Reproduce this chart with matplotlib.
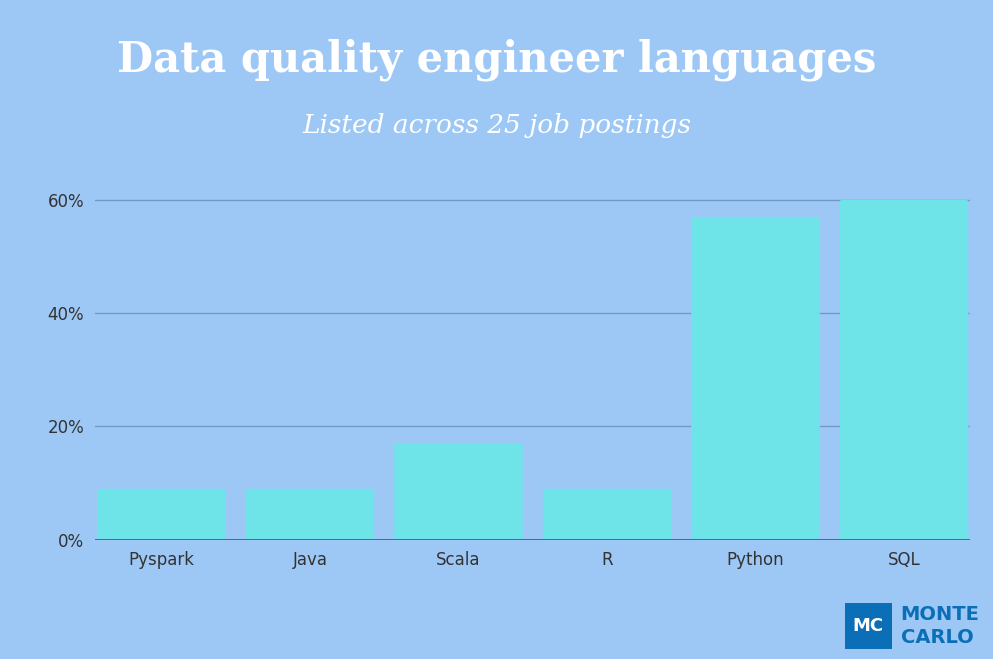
import matplotlib
matplotlib.use("Agg")
import matplotlib.pyplot as plt
from matplotlib.patches import FancyBboxPatch

categories = ["Pyspark", "Java", "Scala", "R", "Python", "SQL"]
values = [9, 9, 17, 9, 57, 60]
yticks = [0, 20, 40, 60]
ytick_labels = ["0%", "20%", "40%", "60%"]

bg = "#9DC8F6"
bar_c = "#6FE4E8"
fig = plt.figure(figsize=(9.93, 6.59), dpi=100, facecolor=bg)
ax = fig.add_axes([0.096, 0.181, 0.881, 0.52])
ax.set_facecolor(bg)
ax.set_xlim(-0.445, len(categories) - 0.555)
ax.set_ylim(0, 60.5)
for y in yticks:
    ax.axhline(y, color="#7497C4", lw=1, zorder=0)
ax.axhline(0, color="#555", lw=1.2, zorder=3)
bars = ax.bar(range(len(categories)), values, width=0.865, color=bar_c, zorder=2)
for b in bars:
    b.set_visible(False)
    p = FancyBboxPatch((b.get_x(), 0), b.get_width(), b.get_height(),
                       boxstyle="round,pad=0,rounding_size=0.04",
                       mutation_aspect=4, fc=bar_c, ec="none", zorder=2)
    ax.add_patch(p)
ax.set_xticks(range(len(categories)), categories)
ax.set_yticks(yticks, ytick_labels)
ax.tick_params(length=0, labelsize=12, colors="#333", pad=8)
for s in ax.spines.values():
    s.set_visible(False)

fig.text(0.5, 0.91, "Data quality engineer languages", ha="center", va="center",
         fontsize=30, fontweight="bold", color="white", family="DejaVu Serif")
fig.text(0.5, 0.81, "Listed across 25 job postings", ha="center", va="center",
         fontsize=19, style="italic", color="white", family="DejaVu Serif")

# logo
fig.patches.append(FancyBboxPatch((0.851, 0.015), 0.047, 0.07, boxstyle="square,pad=0",
                                  transform=fig.transFigure, fc="#0B6FB8", ec="none"))
fig.text(0.8745, 0.05, "MC", ha="center", va="center", fontsize=13,
         fontweight="bold", color="white")
fig.text(0.907, 0.068, "MONTE", ha="left", va="center", fontsize=14,
         fontweight="bold", color="#0B6FB8")
fig.text(0.907, 0.033, "CARLO", ha="left", va="center", fontsize=14,
         fontweight="bold", color="#0B6FB8")

fig.savefig("out.png", dpi=100, facecolor=bg)
